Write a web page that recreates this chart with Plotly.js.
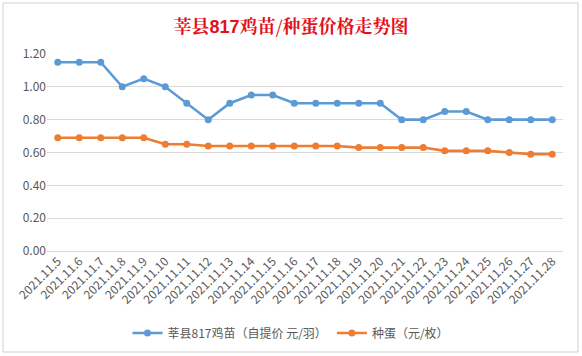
<!DOCTYPE html>
<html>
<head>
<meta charset="utf-8">
<script src="https://cdn.plot.ly/plotly-3.0.1.min.js"></script>
<style>html,body{margin:0;padding:0;background:#fff;}#chart{width:582px;height:356px;}</style>
</head>
<body>
<div id="chart"></div>
<script>
const dates = ["2021.11.5","2021.11.6","2021.11.7","2021.11.8","2021.11.9","2021.11.10","2021.11.11","2021.11.12","2021.11.13","2021.11.14","2021.11.15","2021.11.16","2021.11.17","2021.11.18","2021.11.19","2021.11.20","2021.11.21","2021.11.22","2021.11.23","2021.11.24","2021.11.25","2021.11.26","2021.11.27","2021.11.28"];
const chickPrice = [1.15,1.15,1.15,1.00,1.05,1.00,0.90,0.80,0.90,0.95,0.95,0.90,0.90,0.90,0.90,0.90,0.80,0.80,0.85,0.85,0.80,0.80,0.80,0.80];
const eggPrice = [0.69,0.69,0.69,0.69,0.69,0.65,0.65,0.64,0.64,0.64,0.64,0.64,0.64,0.64,0.63,0.63,0.63,0.63,0.61,0.61,0.61,0.60,0.59,0.59];
const seriesNames = ["莘县817鸡苗（自提价 元/羽）", "种蛋（元/枚）"];
const titleParts = ["莘县", "817", "鸡苗/种蛋价格走势图"];

const font = "'Microsoft YaHei', 'Noto Sans CJK SC', 'Noto Sans', sans-serif";
const serif = "'Noto Serif CJK SC', 'Noto Sans CJK SC', serif";
const titleHtml = '<b>' + titleParts[0] +
  '<span style="font-family:Arial">' + titleParts[1] + '</span>' +
  titleParts[2] + '</b>';

const traces = [
  {x: dates, y: chickPrice, name: seriesNames[0], type: 'scatter', mode: 'lines+markers',
   line: {color: '#5B9BD5', width: 2.6}, marker: {color: '#5B9BD5', size: 7}},
  {x: dates, y: eggPrice, name: seriesNames[1], type: 'scatter', mode: 'lines+markers',
   line: {color: '#ED7D31', width: 2.6}, marker: {color: '#ED7D31', size: 7}}
];
const layout = {
  width: 582, height: 356,
  margin: {l: 47, r: 19, t: 54, b: 105},
  paper_bgcolor: '#ffffff', plot_bgcolor: '#ffffff',
  font: {family: font, color: '#595959', size: 11},
  title: {text: titleHtml, x: 0.5, xanchor: 'center', xref: 'container',
          y: 25, yref: 'container', yanchor: 'middle',
          font: {family: serif, size: 18, color: '#E3101B'}},
  xaxis: {type: 'category', range: [-0.5, 23.5], tickangle: -45, showgrid: false, dtick: 1,
          showline: false, zeroline: false, ticks: '', tickfont: {size: 12, color: '#595959'},
          automargin: false},
  yaxis: {range: [0, 1.2], dtick: 0.2, tickformat: '.2f', gridcolor: '#D9D9D9', gridwidth: 1,
          zeroline: true, zerolinecolor: '#D9D9D9', zerolinewidth: 1, showline: false,
          ticks: '', tickfont: {size: 12, color: '#595959'}, automargin: false},
  showlegend: true,
  legend: {orientation: 'h', x: 0.5, xref: 'container', xanchor: 'center',
           y: 1 - 333/356, yref: 'container', yanchor: 'middle',
           font: {size: 12, color: '#595959'}, itemwidth: 30, traceorder: 'normal'},
  shapes: [{type: 'rect', xref: 'paper', yref: 'paper', x0: -44/516, x1: 1 + 15/516,
            y0: -101/197, y1: 1 + 51/197, line: {color: '#D0D0D0', width: 1}, fillcolor: 'rgba(0,0,0,0)'}]
};
Plotly.newPlot('chart', traces, layout, {displayModeBar: false, staticPlot: true});
</script>
</body>
</html>
